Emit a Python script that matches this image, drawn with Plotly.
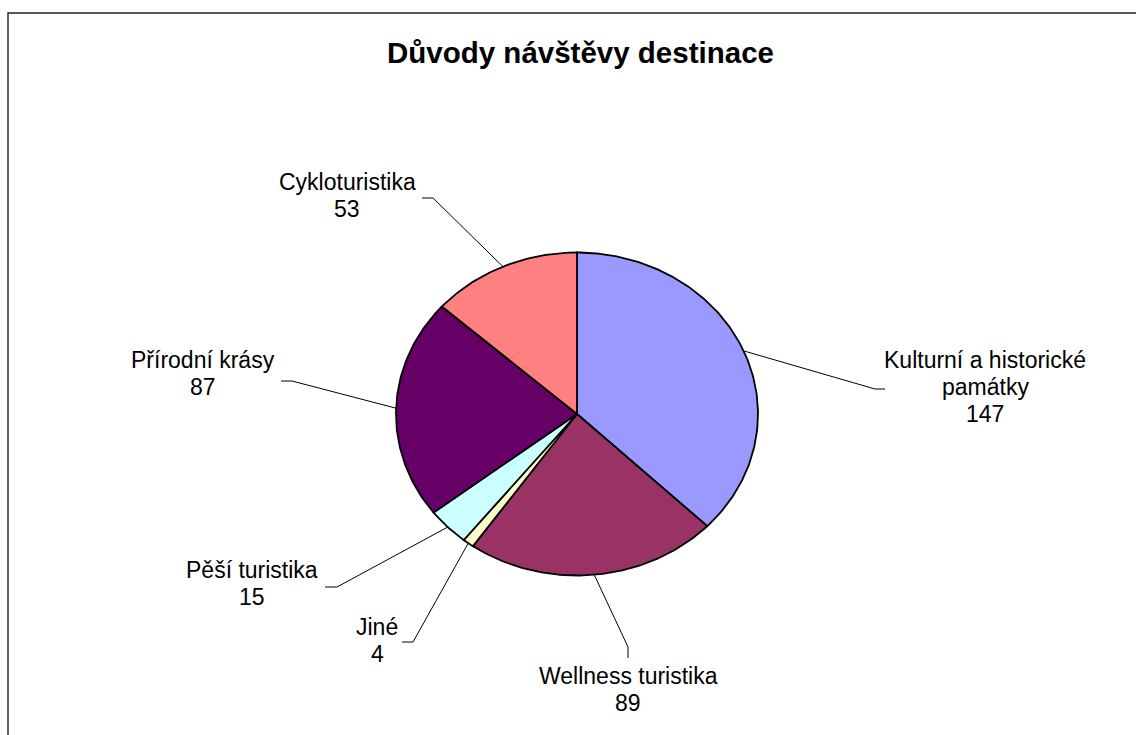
import numpy as np
import plotly.graph_objects as go

# ---- data ----
categories = ["Kulturní a historické památky", "Wellness turistika", "Jiné",
              "Pěší turistika", "Přírodní krásy", "Cykloturistika"]
values = [147, 89, 4, 15, 87, 53]
label_lines = [["Kulturní a historické", "památky"], ["Wellness turistika"], ["Jiné"],
               ["Pěší turistika"], ["Přírodní krásy"], ["Cykloturistika"]]
title_text = "Důvody návštěvy destinace"

# ---- styles / layout ----
colors = ["#9999FF", "#993366", "#FFFFCC", "#CCFFFF", "#660066", "#FF8080"]
W, H = 1136, 735
CX, CY, RX, RY = 577, 414, 181, 161.5
FONT = "Arial, Liberation Sans, sans-serif"
LINE_H = 26.8
# (text x, first line y, elbow x, elbow y, end x, end y) in page pixels
label_layout = [
    (985, 360, 875, 389, 885, 389),
    (628, 676, 628, 647, 628, 658),
    (377, 627, 413, 642, 402, 642),
    (252, 570, 337, 587, 325, 587),
    (203, 360, 292, 381, 281, 381),
    (347, 182, 433, 198, 422, 198),
]

fig = go.Figure()

total = float(sum(values))
cum = 0.0
for name, v, col in zip(categories, values, colors):
    t0 = cum / total * 2 * np.pi
    t1 = (cum + v) / total * 2 * np.pi
    n = max(4, int(np.ceil((t1 - t0) / (2 * np.pi) * 400)))
    th = np.linspace(t0, t1, n)
    xs = [CX] + list(CX + RX * np.sin(th)) + [CX]
    ys = [CY] + list(CY - RY * np.cos(th)) + [CY]
    fig.add_trace(go.Scatter(x=xs, y=ys, mode="lines", fill="toself",
                             fillcolor=col, line=dict(color="black", width=1.8),
                             hoverinfo="skip", showlegend=False, name=name))
    cum += v

# leader lines + labels
cum = 0.0
annotations = []
for lines, v, lay in zip(label_lines, values, label_layout):
    tm = (cum + v / 2.0) / total * 2 * np.pi
    ex = CX + RX * np.sin(tm)
    ey = CY - RY * np.cos(tm)
    tx, ty, bx, by, qx, qy = lay
    fig.add_trace(go.Scatter(x=[ex, bx, qx], y=[ey, by, qy], mode="lines",
                             line=dict(color="black", width=1),
                             hoverinfo="skip", showlegend=False))
    for i, txt in enumerate(lines + [str(v)]):
        annotations.append(dict(x=tx, y=ty + i * LINE_H, xref="x", yref="y",
                                text=txt, showarrow=False,
                                xanchor="center", yanchor="middle",
                                font=dict(family=FONT, size=23, color="black")))
    cum += v

annotations.append(dict(x=580, y=52, xref="x", yref="y", text=f"<b>{title_text}</b>",
                        showarrow=False, xanchor="center", yanchor="middle",
                        font=dict(family=FONT, size=29.5, color="black")))

fig.update_layout(
    width=W, height=H,
    margin=dict(l=0, r=0, t=0, b=0),
    paper_bgcolor="white", plot_bgcolor="white",
    xaxis=dict(range=[0, W], visible=False, fixedrange=True),
    yaxis=dict(range=[H, 0], visible=False, fixedrange=True),
    annotations=annotations,
    shapes=[dict(type="rect", xref="x", yref="y", x0=8, y0=13, x1=W + 20, y1=H + 20,
                 line=dict(color="#222222", width=1.4), fillcolor="rgba(0,0,0,0)",
                 layer="below")],
    showlegend=False,
)

fig.write_html("out.html")
